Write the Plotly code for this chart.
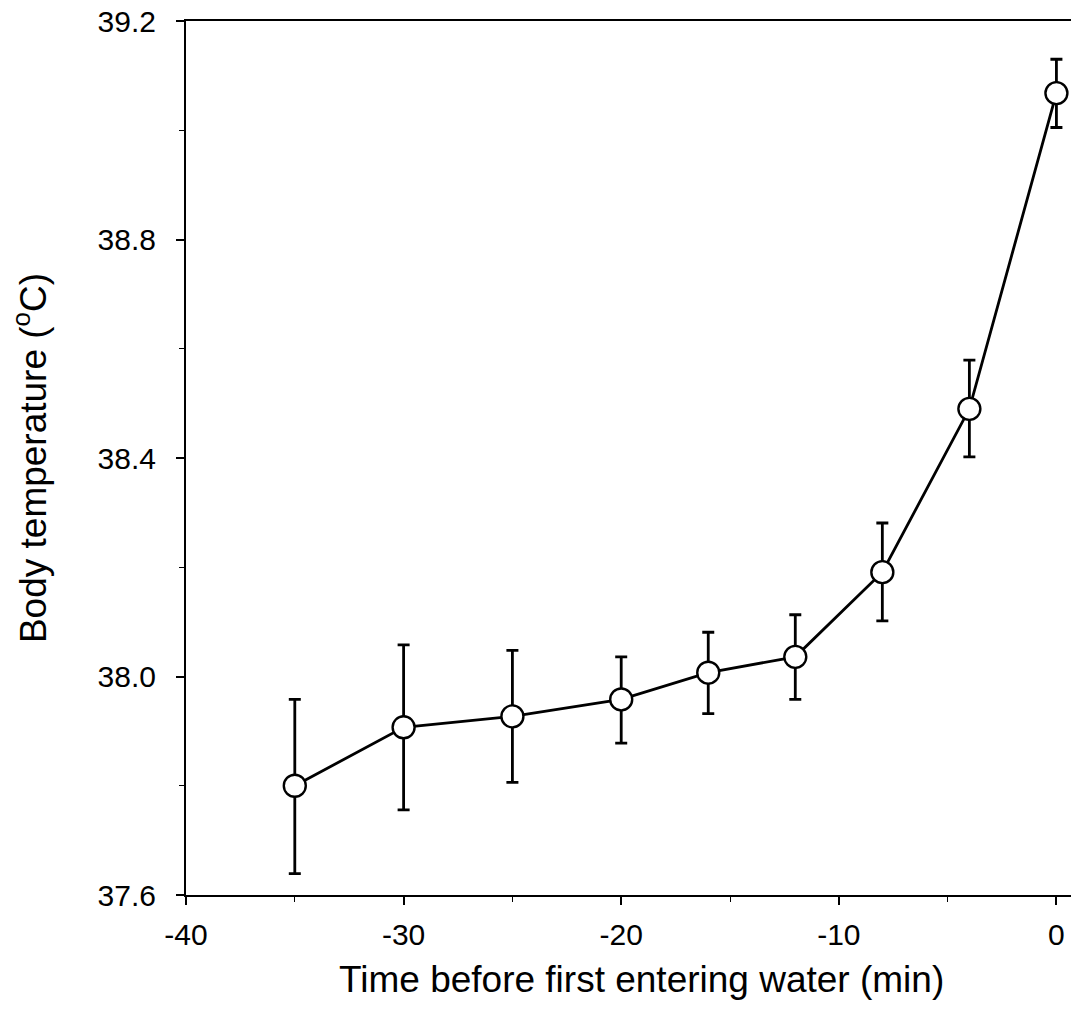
import plotly.graph_objects as go

time_min = [-35, -30, -25, -20, -16, -12, -8, -4, 0]
body_temp = [37.80, 37.907, 37.927, 37.958, 38.007, 38.036, 38.191, 38.490, 39.068]
err_up = [0.158, 0.151, 0.121, 0.078, 0.074, 0.077, 0.090, 0.089, 0.062]
err_down = [0.161, 0.151, 0.121, 0.080, 0.075, 0.078, 0.089, 0.088, 0.063]

x_ticks = [-40, -30, -20, -10, 0]
y_ticks = [37.6, 38.0, 38.4, 38.8, 39.2]
y_tick_labels = ["37.6", "38.0", "38.4", "38.8", "39.2"]

fig = go.Figure()
fig.add_trace(go.Scatter(
    x=time_min, y=body_temp,
    mode="lines+markers",
    line=dict(color="black", width=2.8),
    marker=dict(symbol="circle", size=22, color="white",
                line=dict(color="black", width=2.4)),
    error_y=dict(type="data", symmetric=False, array=err_up, arrayminus=err_down,
                 color="black", thickness=2.8, width=6),
    cliponaxis=False,
    showlegend=False,
))

font = "Liberation Sans, Arial, sans-serif"
fig.update_layout(
    width=1071, height=1009,
    margin=dict(l=186, r=0, t=21, b=114),
    paper_bgcolor="white", plot_bgcolor="white",
    font=dict(family=font, color="black"),
    xaxis=dict(
        range=[-40, 0.67], tickvals=x_ticks, ticktext=[str(v) for v in x_ticks],
        showgrid=False, zeroline=False, showline=True, linecolor="black", linewidth=2,
        mirror=True, ticks="outside", ticklen=8, tickwidth=1.5, tickcolor="black",
        tickfont=dict(size=30, family=font),
        minor=dict(dtick=5, tick0=0, ticks="outside", ticklen=5, tickwidth=1.2, tickcolor="black"),
        ticklabelstandoff=4,
        automargin=False,
    ),
    yaxis=dict(
        range=[37.6, 39.2], tickvals=y_ticks, ticktext=y_tick_labels,
        showgrid=False, zeroline=False, showline=True, linecolor="black", linewidth=2,
        ticks="outside", ticklen=8, tickwidth=1.5, tickcolor="black",
        tickfont=dict(size=30, family=font),
        minor=dict(dtick=0.2, tick0=37.6, ticks="outside", ticklen=5, tickwidth=1.2, tickcolor="black"),
        title=dict(text="Body temperature (<sup>o</sup>C)", font=dict(size=37, family=font), standoff=40),
        ticklabelstandoff=14,
        automargin=False,
    ),
    annotations=[dict(
        text="Time before first entering water (min)",
        xref="paper", yref="paper", x=0.515, y=0, yshift=-62,
        xanchor="center", yanchor="top", showarrow=False,
        font=dict(size=37, family=font, color="black"),
    )],
)

fig.write_html("out.html", config={"displayModeBar": False},
               post_script="document.body.style.margin='0';")
